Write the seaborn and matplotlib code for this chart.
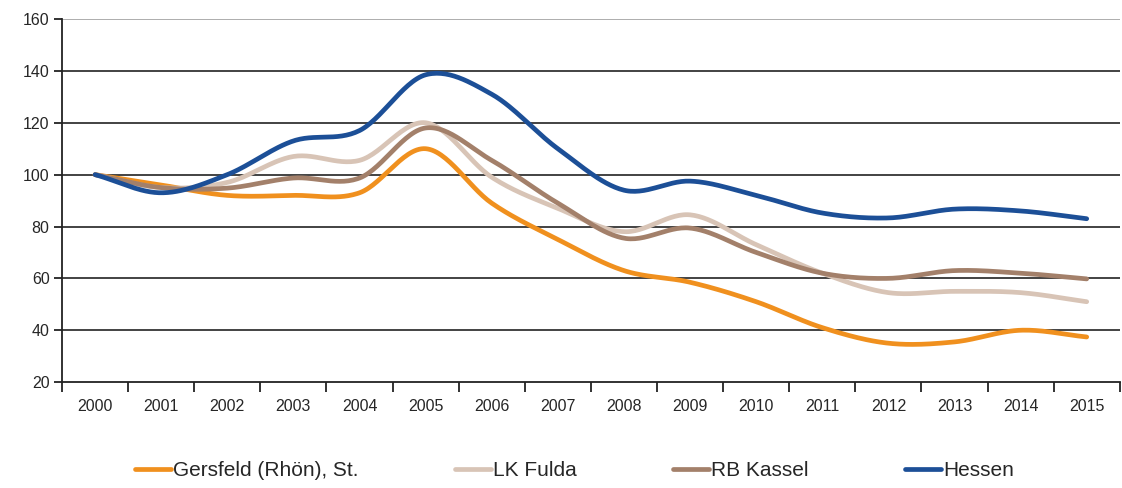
import numpy as np
import pandas as pd
import matplotlib
matplotlib.use("Agg")
import matplotlib.pyplot as plt
import seaborn as sns
from matplotlib.ticker import FixedLocator

# Index (2000 = 100)
jahre = [str(j) for j in range(2000, 2016)]
gersfeld = [100, 96, 92, 92, 93, 110, 89, 75, 63, 58.5, 51, 41, 35, 35.5, 40, 37.4]
lk_fulda = [100, 95, 97, 107, 105.5, 120, 99, 87, 78, 84.5, 73, 62, 54.5, 55, 54.5, 51]
rb_kassel = [100, 95, 94.8, 98.7, 98.7, 118, 105.5, 89, 75.5, 79.4, 70, 62, 60, 63, 62, 59.8]
hessen = [100, 93, 100, 113, 117, 138.5, 131, 110, 94, 97.5, 92, 85.2, 83.3, 86.7, 86, 83]

namen = ["Gersfeld (Rhön), St.", "LK Fulda", "RB Kassel", "Hessen"]
farben = ["#F0901E", "#D8C4B6", "#A3806A", "#1C4F97"]


def glatt(werte, n=30):
    # Kurve wie "geglättete Linie" in Excel (kubisch, Hermite)
    y = np.array(werte, dtype=float)
    m = np.zeros_like(y)
    m[1:-1] = (y[2:] - y[:-2]) / 2
    m[0] = y[1] - y[0]
    m[-1] = y[-1] - y[-2]
    xs, ys = [], []
    for i in range(len(y) - 1):
        t = np.linspace(0, 1, n, endpoint=False)
        h00 = 2 * t**3 - 3 * t**2 + 1
        h10 = t**3 - 2 * t**2 + t
        h01 = -2 * t**3 + 3 * t**2
        h11 = t**3 - t**2
        xs.extend(i + t)
        ys.extend(h00 * y[i] + h10 * m[i] + h01 * y[i + 1] + h11 * m[i + 1])
    xs.append(len(y) - 1)
    ys.append(y[-1])
    return xs, ys


teile = []
for name, werte in zip(namen, [gersfeld, lk_fulda, rb_kassel, hessen]):
    xs, ys = glatt(werte)
    teile.append(pd.DataFrame({"x": xs, "wert": ys, "Gebiet": name}))
df = pd.concat(teile, ignore_index=True)

sns.set_style("white")
plt.rcParams["font.family"] = ["Liberation Sans", "DejaVu Sans"]

fig = plt.figure(figsize=(11.22, 4.88), dpi=100)
ax = fig.add_axes([0.0553, 0.217, 0.9427, 0.744])

sns.lineplot(data=df, x="x", y="wert", hue="Gebiet", hue_order=namen,
             palette=farben, linewidth=3.4, ax=ax, sort=False,
             solid_capstyle="round")

ax.set_xlim(-0.5, len(jahre) - 0.5)
ax.set_ylim(20, 160)
ax.set_yticks(range(20, 161, 20))
for v in range(40, 141, 20):
    ax.axhline(v, color="#222222", lw=1.2, zorder=0)
ax.axhline(160, color="#a0a0a0", lw=1.2, zorder=0)

ax.set_xticks(range(len(jahre)))
ax.set_xticklabels(jahre)
ax.xaxis.set_minor_locator(FixedLocator(np.arange(-0.5, len(jahre), 1)))
ax.tick_params(axis="x", which="major", length=0, pad=12, labelsize=11.5)
ax.tick_params(axis="x", which="minor", length=7, width=1.3, color="#222222", direction="out", bottom=True)
ax.tick_params(axis="y", which="major", length=6, width=1.3, color="#222222", direction="out", left=True, labelsize=11.5, pad=3)

for s in ["top", "right"]:
    ax.spines[s].set_visible(False)
for s in ["left", "bottom"]:
    ax.spines[s].set_color("#222222")
    ax.spines[s].set_linewidth(1.3)

ax.set_xlabel("")
ax.set_ylabel("")
ax.legend_.remove()
handles, labels = ax.get_legend_handles_labels()
fig.legend(handles, labels, loc="center", bbox_to_anchor=(0.512, 0.035), ncol=4,
           frameon=False, fontsize=15, handlelength=1.75, handletextpad=0.1,
           columnspacing=4.6)

fig.savefig("out.png", dpi=100)
